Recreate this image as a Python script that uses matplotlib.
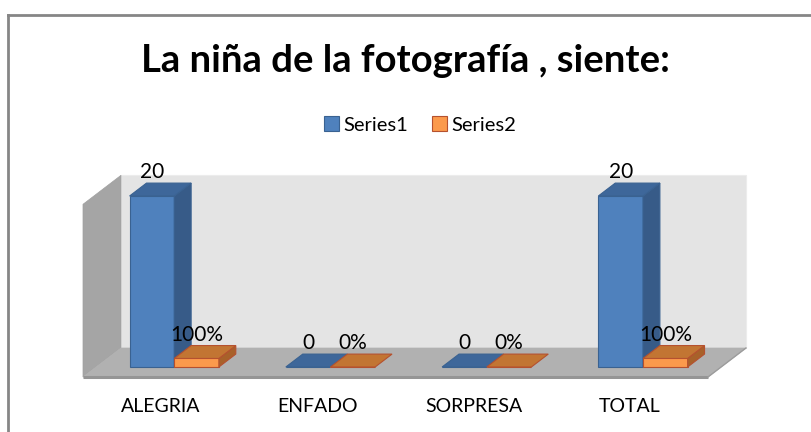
import matplotlib
matplotlib.use("Agg")
import matplotlib.pyplot as plt
from matplotlib.patches import Polygon, Patch

# ---- data ----
categories = ["ALEGRIA", "ENFADO", "SORPRESA", "TOTAL"]
series1 = [20, 0, 0, 20]
series2 = [1.0, 0.0, 0.0, 1.0]
series_names = ["Series1", "Series2"]
labels1 = ["20", "0", "0", "20"]
labels2 = ["100%", "0%", "0%", "100%"]
title = "La niña de la fotografía , siente:"

FONT = ["Lato", "DejaVu Sans"]
plt.rcParams["font.family"] = FONT

W, H = 811, 432
fig = plt.figure(figsize=(W / 100, H / 100), dpi=100)
ax = fig.add_axes([0, 0, 1, 1])
ax.set_axis_off()

# pixel scales
XS = 156.25   # px per category unit
YS = 8.55     # px per value unit
x0_px, y0_px = 83, 377   # floor front-left corner (px from left/top)
xmin = -0.5 - x0_px / XS
ymin = -(H - y0_px) / YS
ax.set_xlim(xmin, xmin + W / XS)
ax.set_ylim(ymin, ymin + H / YS)

DX = 38 / XS
DY = 29 / YS
WALL_TOP = 20.2
n = len(categories)
XL, XR = -0.5, n - 0.5

def P(x, y, z):
    return (x + z * DX, y + z * DY)

# walls
back = Polygon([P(XL, 0, 1), P(XR, 0, 1), P(XR, WALL_TOP, 1), P(XL, WALL_TOP, 1)],
               closed=True, facecolor="#e4e4e4", edgecolor="#ececec", lw=0.8)
side = Polygon([P(XL, 0, 0), P(XL, 0, 1), P(XL, WALL_TOP, 1), P(XL, WALL_TOP, 0)],
               closed=True, facecolor="#a5a5a5", edgecolor="#a0a0a0", lw=0.5)
floor = Polygon([P(XL, 0, 0), P(XR, 0, 0), P(XR, 0, 1), P(XL, 0, 1)],
                closed=True, facecolor="#b1b1b1", edgecolor="#b1b1b1", lw=0.5)
for p in (back, side, floor):
    ax.add_patch(p)
ax.plot([XL, XR], [0, 0], color="#959595", lw=2.2, solid_capstyle="butt")
ax.plot([P(XR, 0, 0)[0], P(XR, 0, 1)[0]], [0, DY], color="#9c9c9c", lw=1.0)

# bars
w = 1 / 3.5
Z0, Z1 = 0.345, 0.79
styles = [
    dict(front="#4f81bd", side="#375b88", top="#3e679a", edge="#3a6291"),
    dict(front="#fb9a4c", side="#a8612a", top="#c27533", edge="#b5512f"),
]
values = [series1, series2]
labels = [labels1, labels2]

for i in range(n):
    for s in range(2):
        v = values[s][i]
        st = styles[s]
        xl = i - w + s * w
        xr = xl + w
        ax.bar(xl + Z0 * DX, v, width=w, bottom=Z0 * DY, align="edge",
               color=st["front"], edgecolor=st["edge"], lw=0.8, zorder=3)
        if v > 0:
            ax.add_patch(Polygon([P(xr, 0, Z0), P(xr, v, Z0), P(xr, v, Z1), P(xr, 0, Z1)],
                                 closed=True, facecolor=st["side"], edgecolor=st["edge"],
                                 lw=0.8, zorder=3))
        ax.add_patch(Polygon([P(xl, v, Z0), P(xr, v, Z0), P(xr, v, Z1), P(xl, v, Z1)],
                             closed=True, facecolor=st["top"], edgecolor=st["edge"],
                             lw=0.8, zorder=3))
        cx = (xl + xr) / 2 + Z0 * DX
        ax.text(cx, v + Z1 * DY + 1 / YS, labels[s][i], ha="center", va="bottom",
                fontsize=15, color="#000000", zorder=5)

# category labels
for i, c in enumerate(categories):
    ax.text(i, -30 / YS, c, ha="center", va="center", fontsize=14, color="#000000")

# title
fig.text(405.5 / W, 1 - 61 / H, title, ha="center", va="center",
         fontsize=27.5, fontweight="bold", color="#000000")

# legend
handles = [Patch(facecolor=styles[k]["front"], edgecolor=styles[k]["edge"], lw=0.8,
                 label=series_names[k]) for k in range(2)]
fig.legend(handles=handles, loc="center", bbox_to_anchor=(420 / W, 1 - 125 / H),
           ncol=2, frameon=False, fontsize=14.5, handlelength=0.75, handleheight=0.75,
           handletextpad=0.2, columnspacing=1.2)

# chart border (top and left visible)
fig.add_artist(plt.Line2D([8 / W, 8 / W], [0, 1 - 15 / H], transform=fig.transFigure,
                          color="#868686", lw=2))
fig.add_artist(plt.Line2D([8 / W, 1], [1 - 15 / H, 1 - 15 / H], transform=fig.transFigure,
                          color="#868686", lw=2))

fig.savefig("out.png", dpi=100, facecolor="white")
